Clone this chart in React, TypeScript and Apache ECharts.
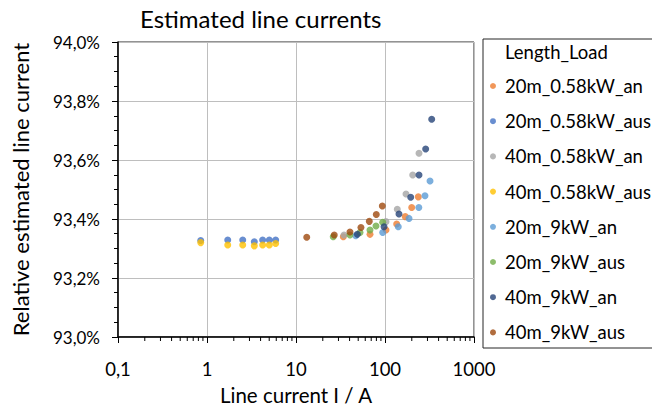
import React, { useEffect, useRef } from "react";
import * as echarts from "echarts";

const seriesNames = [
  "20m_0.58kW_an",
  "20m_0.58kW_aus",
  "40m_0.58kW_an",
  "40m_0.58kW_aus",
  "20m_9kW_an",
  "20m_9kW_aus",
  "40m_9kW_an",
  "40m_9kW_aus",
];
const colors = ["#ED7D31", "#4472C4", "#A5A5A5", "#FFC000", "#5B9BD5", "#70AD47", "#264478", "#9E480E"];

const lowX = [0.85, 1.71, 2.52, 3.4, 4.22, 5.01, 5.91];

const s20m058anX = [34.0, 67.8, 102.6, 135.3, 169.0, 199.6, 236.6];
const s20m058anY = [93.34, 93.348, 93.363, 93.383, 93.408, 93.439, 93.475];
const s20m058ausX = lowX;
const s20m058ausY = [93.327, 93.329, 93.329, 93.323, 93.329, 93.329, 93.329];
const s40m058anX = [34.6, 102.6, 137.4, 172.2, 204.8, 241.0];
const s40m058anY = [93.346, 93.391, 93.433, 93.485, 93.549, 93.623];
const s40m058ausX = lowX;
const s40m058ausY = [93.32, 93.312, 93.312, 93.309, 93.312, 93.312, 93.317];
const s20m9anX = [46.9, 94.2, 141.0, 186.2, 240.0, 281.3, 320.5];
const s20m9anY = [93.343, 93.354, 93.374, 93.402, 93.439, 93.479, 93.529];
const s20m9ausX = [26.2, 40.4, 52.4, 67.8, 79.2, 94.2];
const s20m9ausY = [93.34, 93.346, 93.354, 93.363, 93.376, 93.389];
const s40m9anX = [48.9, 97.5, 143.6, 194.5, 241.0, 286.4, 334.7];
const s40m9anY = [93.348, 93.374, 93.417, 93.474, 93.549, 93.637, 93.738];
const s40m9ausX = [13.2, 26.9, 40.4, 53.7, 66.6, 79.8, 93.3];
const s40m9ausY = [93.338, 93.346, 93.356, 93.371, 93.392, 93.415, 93.444];

const allX = [s20m058anX, s20m058ausX, s40m058anX, s40m058ausX, s20m9anX, s20m9ausX, s40m9anX, s40m9ausX];
const allY = [s20m058anY, s20m058ausY, s40m058anY, s40m058ausY, s20m9anY, s20m9ausY, s40m9anY, s40m9ausY];

const xMinorTicks = [
  0.2, 0.3, 0.4, 0.5, 0.6, 0.7, 0.8, 0.9,
  2, 3, 4, 5, 6, 7, 8, 9,
  20, 30, 40, 50, 60, 70, 80, 90,
  200, 300, 400, 500, 600, 700, 800, 900,
];

const FONT = "Lato";

export default function App() {
  const ref = useRef<HTMLDivElement>(null);
  useEffect(() => {
    if (!ref.current) return;
    const chart = echarts.init(ref.current, undefined, { renderer: "svg" });
    const scatter = seriesNames.map((name, i) => ({
      name,
      type: "scatter",
      symbol: "circle",
      symbolSize: 7,
      itemStyle: { color: colors[i] },
      data: allX[i].map((x, j) => [x, allY[i][j]]),
      z: 3,
    }));
    chart.setOption({
      animation: false,
      textStyle: { fontFamily: FONT },
      title: {
        text: "Estimated line currents",
        left: 140,
        top: 6,
        padding: 0,
        textStyle: { fontFamily: FONT, fontSize: 24, fontWeight: "normal", color: "#000" },
      },
      grid: {
        left: 118,
        top: 42,
        width: 356,
        height: 295,
        show: true,
        borderColor: "#262626",
        borderWidth: 1,
        outerBoundsMode: "none",
        containLabel: false,
      },
      xAxis: {
        type: "log",
        logBase: 10,
        min: 0.1,
        max: 1000,
        name: "Line current I / A",
        nameLocation: "middle",
        nameGap: 47,
        nameTextStyle: { fontFamily: FONT, fontSize: 20.5, color: "#000" },
        axisLine: { show: true, lineStyle: { color: "#000", width: 1.5 } },
        axisTick: { show: true, inside: false, length: 6, lineStyle: { color: "#000" } },
        axisLabel: {
          fontFamily: FONT,
          fontSize: 18.5,
          color: "#000",
          margin: 22,
          formatter: (v: number) => String(v).replace(".", ","),
        },
        splitLine: { show: true, lineStyle: { color: "#BEBEBE", width: 1 } },
      },
      yAxis: {
        type: "value",
        min: 93.0,
        max: 94.0,
        interval: 0.2,
        name: "Relative estimated line current",
        nameLocation: "middle",
        nameGap: 87,
        nameTextStyle: { fontFamily: FONT, fontSize: 22, color: "#000" },
        axisLine: { show: true, lineStyle: { color: "#000", width: 1.5 } },
        axisTick: { show: true, inside: false, length: 6, lineStyle: { color: "#000" } },
        minorTick: { show: true, splitNumber: 4, length: 4, lineStyle: { color: "#000" } },
        axisLabel: {
          fontFamily: FONT,
          fontSize: 17,
          color: "#000",
          margin: 18,
          formatter: (v: number) => v.toFixed(1).replace(".", ",") + "%",
        },
        splitLine: { show: true, lineStyle: { color: "#BEBEBE", width: 1 } },
      },
      legend: {
        data: seriesNames,
        orient: "vertical",
        left: 490,
        top: 76,
        padding: 0,
        itemGap: 15.2,
        icon: "circle",
        itemWidth: 6,
        itemHeight: 6,
        textStyle: { fontFamily: FONT, fontSize: 18.5, color: "#000", padding: [0, 0, 0, 4], lineHeight: 20 },
      },
      graphic: [
        {
          type: "rect",
          shape: { x: 483, y: 39, width: 200, height: 309 },
          style: { fill: "none", stroke: "#262626", lineWidth: 1 },
          silent: true,
        },
        {
          type: "text",
          x: 505,
          y: 52,
          style: {
            text: "Length_Load",
            fontFamily: FONT,
            fontSize: 18.5,
            fill: "#000",
            verticalAlign: "middle",
          },
          silent: true,
        },
      ],
      series: [
        ...scatter,
        {
          type: "custom",
          silent: true,
          clip: false,
          z: 4,
          data: xMinorTicks.map((v) => [v, 93.0]),
          renderItem: (_p: any, api: any) => {
            const pt = api.coord([api.value(0), api.value(1)]);
            return {
              type: "line",
              shape: { x1: pt[0], y1: pt[1], x2: pt[0], y2: pt[1] + 4 },
              style: { stroke: "#000", lineWidth: 1 },
            };
          },
        },
      ],
    });
    return () => chart.dispose();
  }, []);
  return <div ref={ref} style={{ width: 652, height: 407, position: "absolute", left: 0, top: 0 }} />;
}
